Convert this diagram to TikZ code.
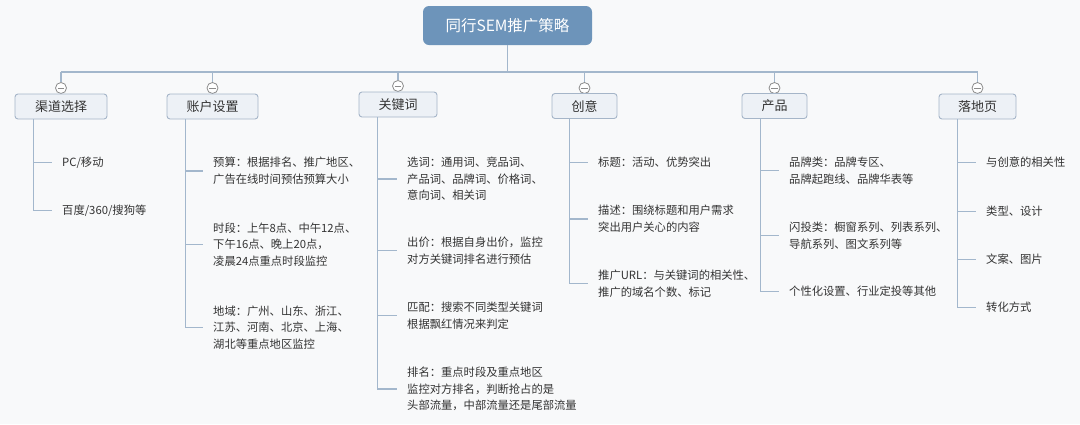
\documentclass[tikz,border=0pt]{standalone}
\usepackage{fontspec}
\setmainfont{Noto Sans CJK SC}
\definecolor{bgc}{HTML}{F8F9FA}
\definecolor{linec}{HTML}{A3B7CC}
\definecolor{rootc}{HTML}{6D94BA}
\definecolor{brfill}{HTML}{EDF1F6}
\definecolor{brdraw}{HTML}{A5B5C8}
\definecolor{togc}{HTML}{8C8C8C}
\definecolor{txtc}{HTML}{333333}
\tikzset{
  rootbox/.style={draw=none, fill=rootc, rounded corners=6pt, minimum width=169pt, minimum height=39pt, text=white, font=\fontsize{15.5}{18}\selectfont, inner sep=0pt},
  branchbox/.style={draw=brdraw, line width=0.9pt, fill=brfill, rounded corners=3pt, minimum height=25pt, text=txtc, font=\fontsize{13}{15}\selectfont, inner sep=0pt},
  toggle/.style={circle, draw=togc, fill=white, line width=0.8pt, minimum size=11pt, inner sep=0pt,
    path picture={\draw[togc, line width=0.8pt] ([xshift=2.2pt]path picture bounding box.west) -- ([xshift=-2.2pt]path picture bounding box.east);}},
  leaf/.style={anchor=west, align=left, text=txtc, inner xsep=10pt, inner ysep=0pt, font=\fontsize{11.3}{16.6}\selectfont},
  conn/.style={draw=linec, line width=1.1pt},
}
\begin{document}
\begin{tikzpicture}[x=1pt,y=-1pt]
\useasboundingbox (0,0) rectangle (1080,424);
\fill[bgc] (0,0) rectangle (1080,424);

% root
\node[rootbox] (root) at (507.5,25.5) {同行SEM推广策略};

% toggles
\node[toggle] (t1) at (61,88) {};
\node[toggle] (t2) at (212.5,88) {};
\node[toggle] (t3) at (398,86) {};
\node[toggle] (t4) at (584.5,88) {};
\node[toggle] (t5) at (774.5,88) {};
\node[toggle] (t6) at (977.5,88) {};

% branch boxes
\node[branchbox, minimum width=92pt] (b1) at (61,106.5) {渠道选择};
\node[branchbox, minimum width=91pt] (b2) at (212.5,106.5) {账户设置};
\node[branchbox, minimum width=78pt] (b3) at (398,104.5) {关键词};
\node[branchbox, minimum width=65pt] (b4) at (584.5,106) {创意};
\node[branchbox, minimum width=65pt] (b5) at (774.5,106) {产品};
\node[branchbox, minimum width=77pt] (b6) at (977.5,106.5) {落地页};

% bus
\coordinate (busl) at (61,72);
\coordinate (busr) at (977.5,72);
\draw[conn] (root.south) -- (root.south |- busl);
\draw[conn] (busl) -- (busr);
\foreach \i in {1,...,6} {\draw[conn] (t\i.north |- busl) -- (t\i.north);}

% vertical stems
\coordinate (v1) at ([xshift=19pt]b1.south west);
\coordinate (v2) at ([xshift=19pt]b2.south west);
\coordinate (v3) at ([xshift=19pt]b3.south west);
\coordinate (v4) at ([xshift=18pt]b4.south west);
\coordinate (v5) at ([xshift=19pt]b5.south west);
\coordinate (v6) at ([xshift=19pt]b6.south west);

% leaves: 渠道选择
\node[leaf] (l11) at (52,162.5) {PC/移动};
\node[leaf] (l12) at (52,210.5) {百度/360/搜狗等};
% 账户设置
\node[leaf] (l21) at (203,171) {预算：根据排名、推广地区、\\广告在线时间预估预算大小};
\node[leaf] (l22) at (203,244.5) {时段：上午8点、中午12点、\\下午16点、晚上20点，\\凌晨24点重点时段监控};
\node[leaf] (l23) at (203,327.5) {地域：广州、山东、浙江、\\江苏、河南、北京、上海、\\湖北等重点地区监控};
% 关键词
\node[leaf] (l31) at (397,179) {选词：通用词、竞品词、\\产品词、品牌词、价格词、\\意向词、相关词};
\node[leaf] (l32) at (397,250.5) {出价：根据自身出价，监控\\对方关键词排名进行预估};
\node[leaf] (l33) at (397,315.5) {匹配：搜索不同类型关键词\\根据飘红情况来判定};
\node[leaf] (l34) at (397,389) {排名：重点时段及重点地区\\监控对方排名，判断抢占的是\\头部流量，中部流量还是尾部流量};
% 创意
\node[leaf] (l41) at (588,162.5) {标题：活动、优势突出};
\node[leaf] (l42) at (588,219) {描述：围绕标题和用户需求\\突出用户关心的内容};
\node[leaf] (l43) at (588,283.5) {推广URL：与关键词的相关性、\\推广的域名个数、标记};
% 产品
\node[leaf] (l51) at (779,170.5) {品牌类：品牌专区、\\品牌起跑线、品牌华表等};
\node[leaf] (l52) at (779,235.5) {闪投类：橱窗系列、列表系列、\\导航系列、图文系列等};
\node[leaf] (l53) at (779,291.5) {个性化设置、行业定投等其他};
% 落地页
\node[leaf] (l61) at (976,162.5) {与创意的相关性};
\node[leaf] (l62) at (976,211.5) {类型、设计};
\node[leaf] (l63) at (976,259.5) {文案、图片};
\node[leaf] (l64) at (976,307.5) {转化方式};

% connectors
\foreach \l in {l11,l12} {\draw[conn] (v1) |- (\l.west);}
\foreach \l in {l21,l22,l23} {\draw[conn] (v2) |- (\l.west);}
\foreach \l in {l31,l32,l33,l34} {\draw[conn] (v3) |- (\l.west);}
\foreach \l in {l41,l42,l43} {\draw[conn] (v4) |- (\l.west);}
\foreach \l in {l51,l52,l53} {\draw[conn] (v5) |- (\l.west);}
\foreach \l in {l61,l62,l63,l64} {\draw[conn] (v6) |- (\l.west);}
\end{tikzpicture}
\end{document}
